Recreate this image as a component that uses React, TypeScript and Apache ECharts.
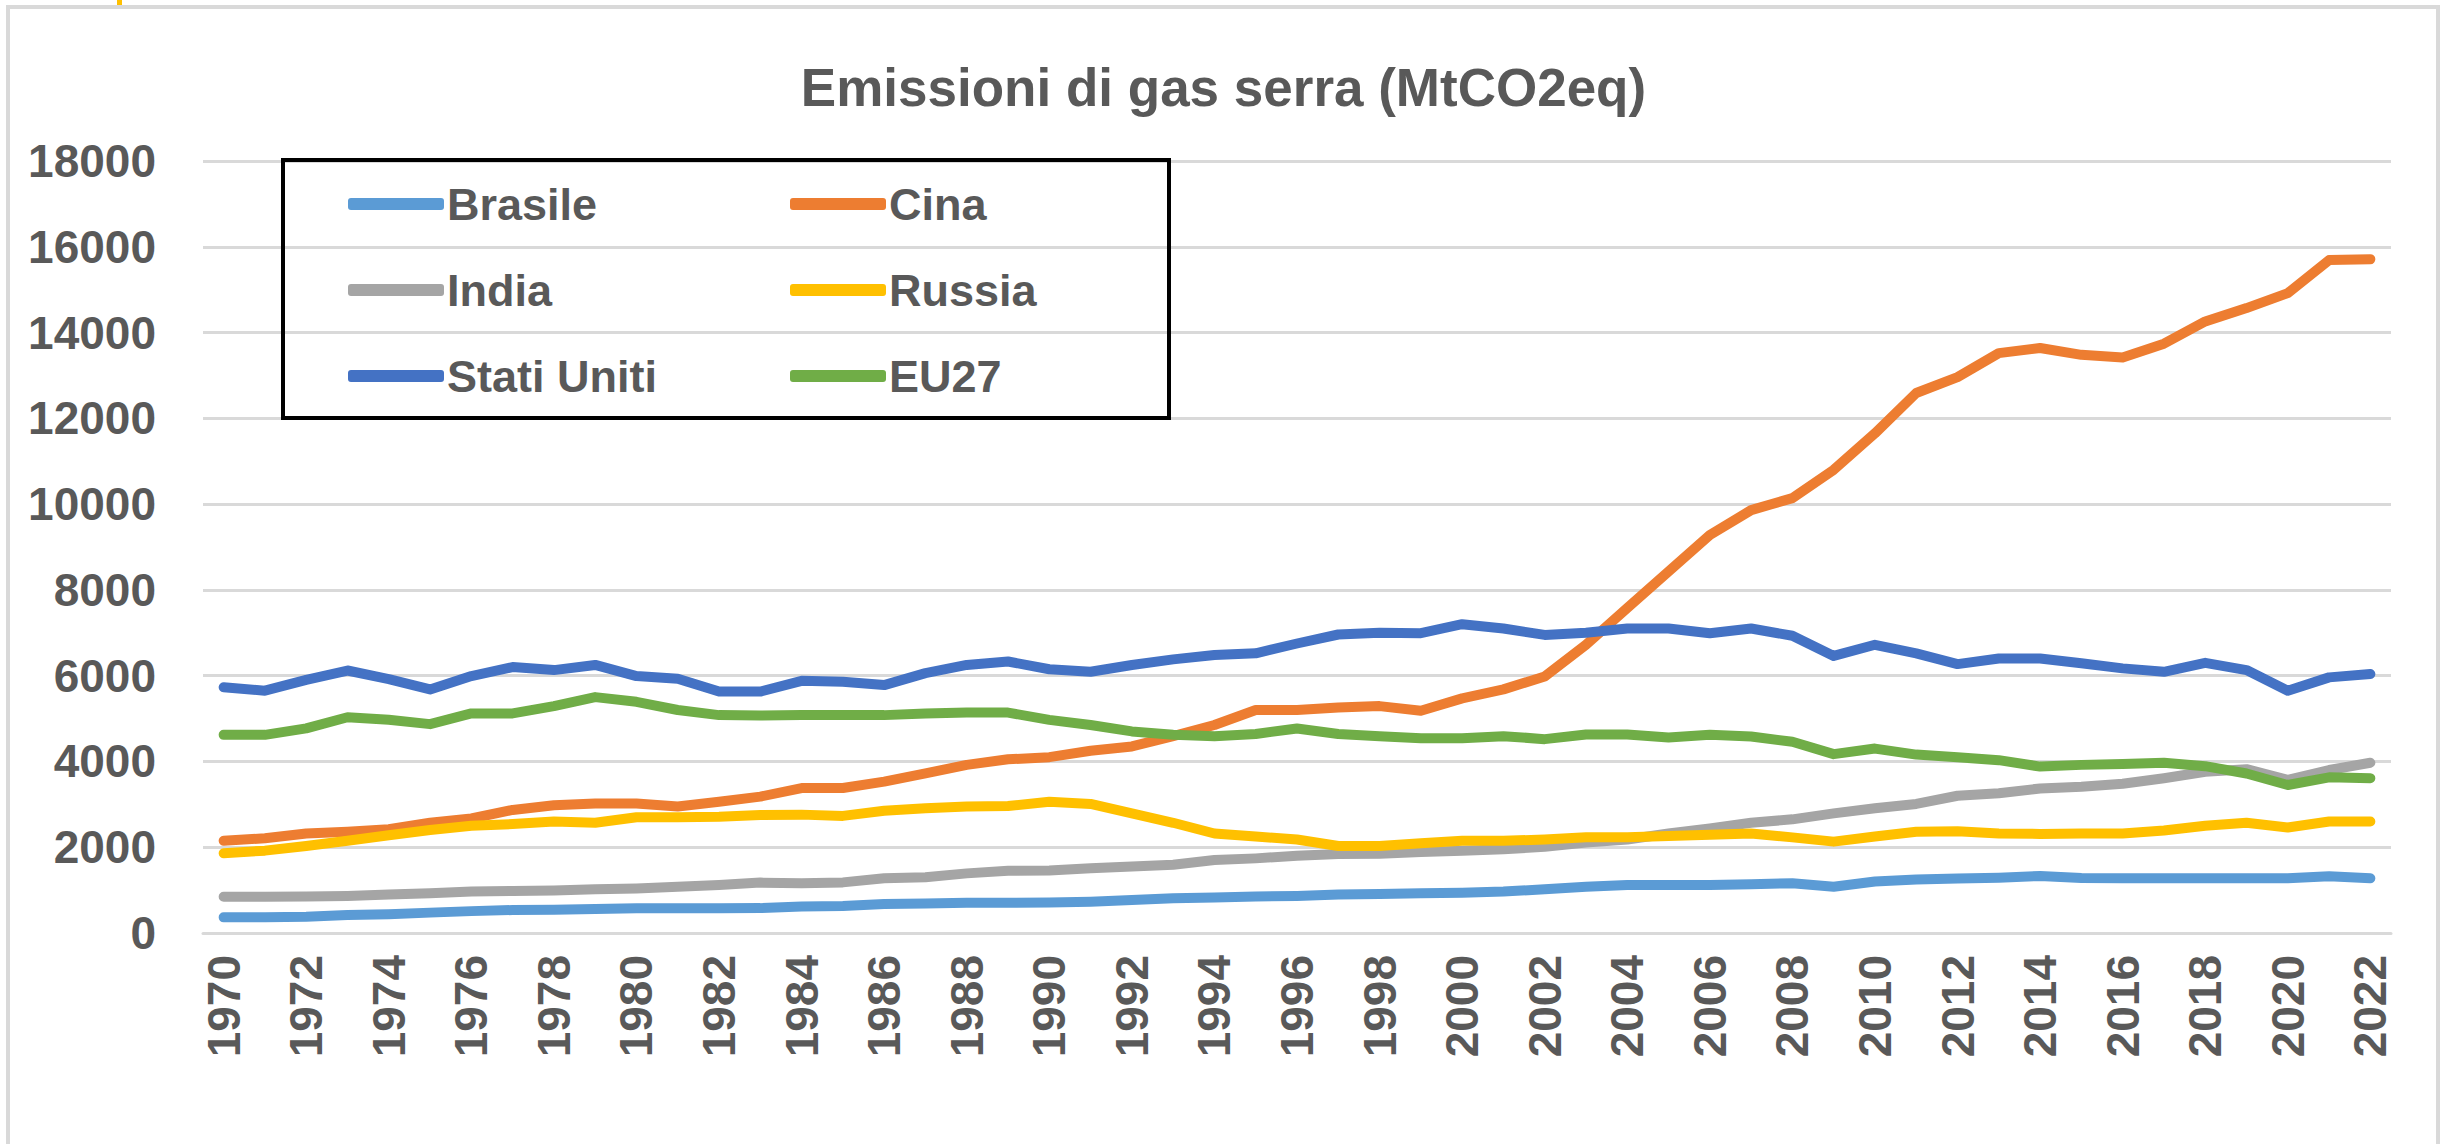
import React, { useEffect, useRef } from "react";
import * as echarts from "echarts";

const years = [
  "1970", "1971", "1972", "1973", "1974", "1975", "1976", "1977", "1978", "1979",
  "1980", "1981", "1982", "1983", "1984", "1985", "1986", "1987", "1988", "1989",
  "1990", "1991", "1992", "1993", "1994", "1995", "1996", "1997", "1998", "1999",
  "2000", "2001", "2002", "2003", "2004", "2005", "2006", "2007", "2008", "2009",
  "2010", "2011", "2012", "2013", "2014", "2015", "2016", "2017", "2018", "2019",
  "2020", "2021", "2022",
];

const brasile = [
  365, 365, 380, 420, 440, 475, 510, 535, 540, 560,
  575, 575, 575, 580, 620, 630, 675, 690, 705, 705,
  710, 730, 770, 810, 825, 850, 865, 900, 910, 925,
  940, 965, 1020, 1080, 1120, 1120, 1120, 1135, 1160, 1080,
  1200, 1250, 1270, 1290, 1330, 1280, 1275, 1275, 1275, 1275,
  1275, 1325, 1275,
];

const cina = [
  2150, 2210, 2320, 2360, 2420, 2570, 2670, 2870, 2980, 3020,
  3020, 2950, 3060, 3180, 3380, 3380, 3530, 3720, 3920, 4050,
  4100, 4250, 4350, 4590, 4850, 5200, 5200, 5260, 5290, 5180,
  5470, 5680, 5980, 6720, 7580, 8430, 9280, 9860, 10140, 10800,
  11650, 12590, 12960, 13520, 13640, 13480, 13420, 13740, 14260, 14570,
  14920, 15690, 15710,
];

const india = [
  847, 847, 850, 865, 900, 925, 965, 980, 990, 1020,
  1040, 1080, 1120, 1175, 1160, 1180, 1275, 1300, 1390, 1450,
  1455, 1510, 1550, 1590, 1700, 1740, 1800, 1840, 1850, 1890,
  1920, 1950, 2010, 2110, 2180, 2320, 2440, 2570, 2650, 2790,
  2910, 3010, 3200, 3260, 3370, 3410, 3480, 3610, 3760, 3820,
  3570, 3800, 3970,
];

const russia = [
  1860, 1920, 2030, 2150, 2280, 2400, 2500, 2540, 2600, 2570,
  2700, 2700, 2710, 2750, 2760, 2730, 2850, 2910, 2950, 2960,
  3060, 3010, 2790, 2570, 2320, 2250, 2180, 2030, 2030, 2090,
  2150, 2150, 2180, 2230, 2230, 2260, 2290, 2320, 2230, 2130,
  2250, 2360, 2370, 2320, 2310, 2320, 2320, 2390, 2500, 2570,
  2460, 2600, 2600,
];

const statiUniti = [
  5730, 5650, 5900, 6120, 5920, 5680, 5990, 6200, 6130, 6250,
  5990, 5930, 5630, 5630, 5880, 5860, 5780, 6060, 6250, 6330,
  6150, 6090, 6250, 6380, 6480, 6520, 6750, 6960, 7000, 6990,
  7200, 7100, 6950, 7000, 7100, 7100, 6990, 7100, 6930, 6460,
  6720, 6520, 6270, 6400, 6400, 6290, 6170, 6090, 6300, 6130,
  5650, 5960, 6040,
];

const eu27 = [
  4620, 4620, 4770, 5030, 4970, 4870, 5120, 5120, 5290, 5500,
  5390, 5200, 5080, 5070, 5080, 5080, 5080, 5120, 5140, 5140,
  4970, 4850, 4700, 4620, 4590, 4640, 4770, 4640, 4590, 4540,
  4540, 4590, 4520, 4630, 4630, 4560, 4620, 4580, 4460, 4170,
  4300, 4160, 4100, 4030, 3880, 3920, 3940, 3970, 3890, 3720,
  3450, 3630, 3610,
];

const seriesNames = ["Brasile", "Cina", "India", "Russia", "Stati Uniti", "EU27"];
const seriesData = [brasile, cina, india, russia, statiUniti, eu27];
const seriesColors = ["#5B9BD5", "#ED7D31", "#A5A5A5", "#FFC000", "#4472C4", "#70AD47"];

const titleText = "Emissioni di gas serra (MtCO2eq)";
const FONT = "'Liberation Sans', Arial, sans-serif";
const TEXT_COLOR = "#595959";

export default function App() {
  const ref = useRef<HTMLDivElement>(null);

  useEffect(() => {
    if (!ref.current) return;
    const chart = echarts.init(ref.current, null, { renderer: "svg" });

    const series = seriesNames.map((name, i) => ({
      name,
      type: "line",
      data: seriesData[i],
      symbol: "none",
      smooth: false,
      color: seriesColors[i],
      lineStyle: { width: 10, color: seriesColors[i], cap: "round", join: "round" },
      z: 3,
    }));

    const legendCommon = {
      orient: "vertical",
      icon: "roundRect",
      itemWidth: 96,
      itemHeight: 12,
      itemGap: 40,
      padding: 0,
      selectedMode: false,
      textStyle: {
        fontFamily: FONT,
        fontSize: 45,
        fontWeight: "bold",
        lineHeight: 46,
        color: TEXT_COLOR,
        padding: [0, 0, 0, -2],
      },
    };

    chart.setOption({
      animation: false,
      backgroundColor: "#ffffff",
      title: {
        text: titleText,
        left: "center",
        top: 56,
        textStyle: {
          fontFamily: FONT,
          fontSize: 53,
          fontWeight: "bold",
          color: TEXT_COLOR,
        },
      },
      legend: [
        { ...legendCommon, left: 348, top: 181, data: ["Brasile", "India", "Stati Uniti"] },
        { ...legendCommon, left: 790, top: 181, data: ["Cina", "Russia", "EU27"] },
      ],
      grid: { left: 203, right: 56, top: 161, bottom: 211, containLabel: false },
      xAxis: {
        type: "category",
        data: years,
        boundaryGap: true,
        axisTick: { show: false },
        axisLine: { show: true, lineStyle: { color: "#D9D9D9", width: 3 } },
        axisLabel: {
          interval: 1,
          rotate: 90,
          margin: 22,
          fontFamily: FONT,
          fontSize: 46,
          fontWeight: "bold",
          color: TEXT_COLOR,
        },
      },
      yAxis: {
        type: "value",
        min: 0,
        max: 18000,
        interval: 2000,
        axisLine: { show: false },
        axisTick: { show: false },
        splitLine: { show: true, lineStyle: { color: "#D9D9D9", width: 3 } },
        axisLabel: {
          margin: 47,
          fontFamily: FONT,
          fontSize: 46,
          fontWeight: "bold",
          color: TEXT_COLOR,
          formatter: (v: number) => String(v),
        },
      },
      graphic: [
        {
          type: "rect",
          shape: { x: 8, y: 7, width: 2430, height: 1200 },
          style: { fill: "none", stroke: "#D9D9D9", lineWidth: 4 },
          silent: true,
          z: 0,
        },
        {
          type: "rect",
          shape: { x: 117, y: 0, width: 5, height: 5 },
          style: { fill: "#FFC000" },
          silent: true,
        },
        {
          type: "rect",
          shape: { x: 283, y: 160, width: 886, height: 258 },
          style: { fill: "none", stroke: "#000000", lineWidth: 4 },
          silent: true,
          z: 10,
        },
      ],
      series,
    });

    return () => {
      chart.dispose();
    };
  }, []);

  return (
    <div
      ref={ref}
      style={{ position: "fixed", left: 0, top: 0, width: 2447, height: 1144, background: "#fff" }}
    />
  );
}
